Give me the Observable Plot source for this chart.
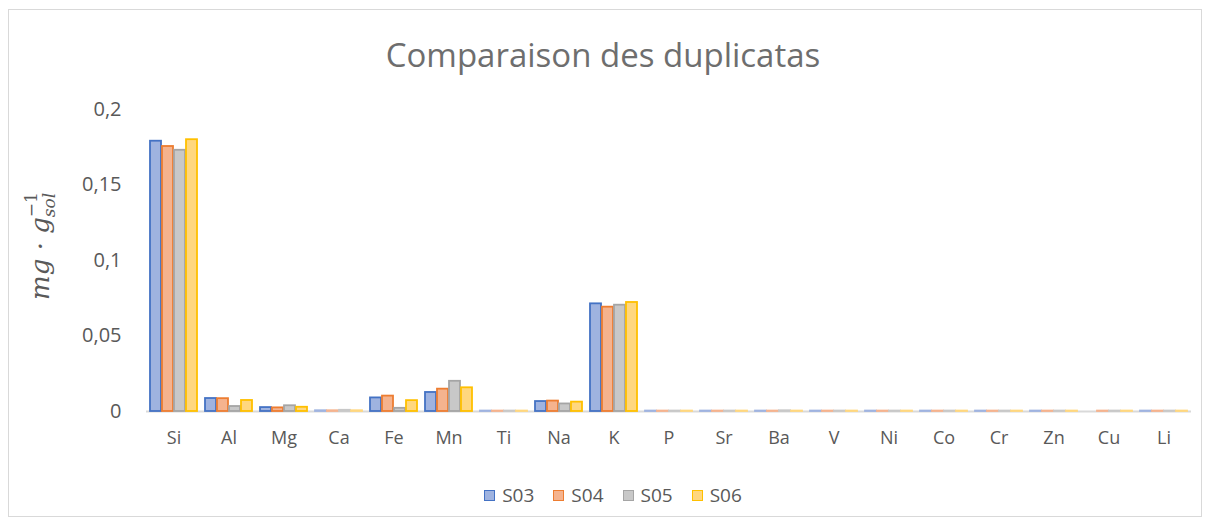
<!DOCTYPE html>
<html>
<head>
<meta charset="utf-8">
<script src="https://cdn.jsdelivr.net/npm/d3@7"></script>
<script src="https://cdn.jsdelivr.net/npm/@observablehq/plot@0.6"></script>
<style>
  html, body { margin: 0; padding: 0; background: #fff; }
  #wrap { position: relative; width: 1214px; height: 528px; font-family: "Open Sans", Lato, sans-serif; color: #595959; overflow: hidden; }
  #frame { position: absolute; left: 8px; top: 9px; width: 1194px; height: 508px; border: 1.5px solid #d9d9d9; box-sizing: border-box; }
  #title { position: absolute; left: -4px; top: 35px; width: 1214px; text-align: center; font-size: 33px; line-height: 40px; color: #6e6e6e; }
  #chart { position: absolute; left: 0; top: 0; }
  #legend { position: absolute; left: 16px; top: 483px; width: 1194px; display: flex; justify-content: center; font-size: 19px; line-height: 24px; }
  .item { display: flex; align-items: center; margin: 0 19px 0 0; }
  .item:last-child { margin-right: 0; }
  .sw { width: 9px; height: 9px; border: 1.6px solid; margin-right: 7px; }
</style>
</head>
<body>
<div id="wrap">
  <div id="frame"></div>
  <div id="chart"></div>
  <div id="title">Comparaison des duplicatas</div>
  <div id="legend"></div>
</div>
<script>
const elements = ["Si","Al","Mg","Ca","Fe","Mn","Ti","Na","K","P","Sr","Ba","V","Ni","Co","Cr","Zn","Cu","Li"];
const seriesNames = ["S03","S04","S05","S06"];
const S03 = [0.179, 0.0086, 0.0026, 0.0005, 0.0090, 0.0126, 0.0003, 0.0066, 0.0713, 0.0003, 0.0003, 0.0003, 0.0003, 0.0003, 0.0003, 0.0003, 0.0003, 0, 0.0003];
const S04 = [0.1755, 0.0085, 0.0024, 0.0005, 0.0102, 0.0148, 0.0003, 0.0069, 0.0691, 0.0003, 0.0003, 0.0003, 0.0003, 0.0003, 0.0003, 0.0003, 0.0003, 0.0003, 0.0003];
const S05 = [0.1730, 0.0033, 0.0038, 0.0008, 0.0021, 0.0200, 0.0003, 0.0050, 0.0704, 0.0003, 0.0003, 0.0005, 0.0003, 0.0003, 0.0003, 0.0003, 0.0003, 0.0003, 0.0003];
const S06 = [0.1800, 0.0073, 0.0028, 0.0005, 0.0072, 0.0157, 0.0003, 0.0062, 0.0722, 0.0003, 0.0003, 0.0003, 0.0003, 0.0003, 0.0003, 0.0003, 0.0003, 0.0003, 0.0003];
const yTicks = [0, 0.05, 0.1, 0.15, 0.2];
const yTickLabels = ["0", "0,05", "0,1", "0,15", "0,2"];

const fills = {S03: "#9fb3e0", S04: "#f5b38e", S05: "#c8c8c8", S06: "#ffd77f"};
const strokes = {S03: "#4472c4", S04: "#ed7d31", S05: "#a5a5a5", S06: "#ffc000"};

const seriesValues = {S03, S04, S05, S06};
const data = [];
elements.forEach((el, i) => {
  seriesNames.forEach(s => {
    data.push({element: el, series: s, value: seriesValues[s][i]});
  });
});

const chart = Plot.plot({
  width: 1214,
  height: 470,
  marginTop: 109,
  marginBottom: 59,
  marginLeft: 145,
  marginRight: 22,
  style: {fontFamily: "'Open Sans', Lato, sans-serif", fontSize: "18px", color: "#595959", background: "transparent"},
  fx: {domain: elements, padding: 0, label: null},
  x: {domain: seriesNames, axis: null, paddingInner: 0.1, paddingOuter: 0.3},
  y: {domain: [0, 0.2], label: null},
  marks: [
    Plot.axisFx({anchor: "bottom", tickSize: 0, tickPadding: 20, label: null, fontSize: 18}),
    Plot.axisY({ticks: yTicks, tickFormat: d => yTickLabels[yTicks.indexOf(d)], tickSize: 0, tickPadding: 25, label: null, fontSize: 20}),
    Plot.ruleY([0], {stroke: "#d9d9d9", strokeWidth: 2}),
    Plot.barY(data, {
      fx: "element", x: "series", y: "value",
      fill: d => fills[d.series],
      stroke: d => d.value < 0.001 ? fills[d.series] : strokes[d.series],
      strokeWidth: 1.8
    })
  ]
});
document.getElementById("chart").appendChild(chart);

// y axis label (math style)
const svg = d3.select(chart);
const lbl = svg.append("text")
  .attr("transform", "translate(48,246) rotate(-90)")
  .attr("text-anchor", "start")
  .attr("font-family", "'DejaVu Serif', serif")
  .attr("font-style", "italic")
  .attr("font-size", 26)
  .attr("fill", "#595959");
lbl.append("tspan").text("mg · g");
const sub = lbl.append("tspan").attr("font-size", 17).attr("dy", 6).text("sol");
const subW = sub.node().getComputedTextLength();
lbl.append("tspan").attr("font-size", 17).attr("dx", -subW).attr("dy", -18).attr("font-style", "normal").text("−1");
const bb = lbl.node().getBBox();
lbl.attr("transform", `translate(49,${246 + bb.width / 2}) rotate(-90)`);

// legend
const legend = d3.select("#legend");
seriesNames.forEach(s => {
  const it = legend.append("div").attr("class", "item");
  it.append("div").attr("class", "sw").style("background", fills[s]).style("border-color", strokes[s]);
  it.append("span").text(s);
});
</script>
</body>
</html>
